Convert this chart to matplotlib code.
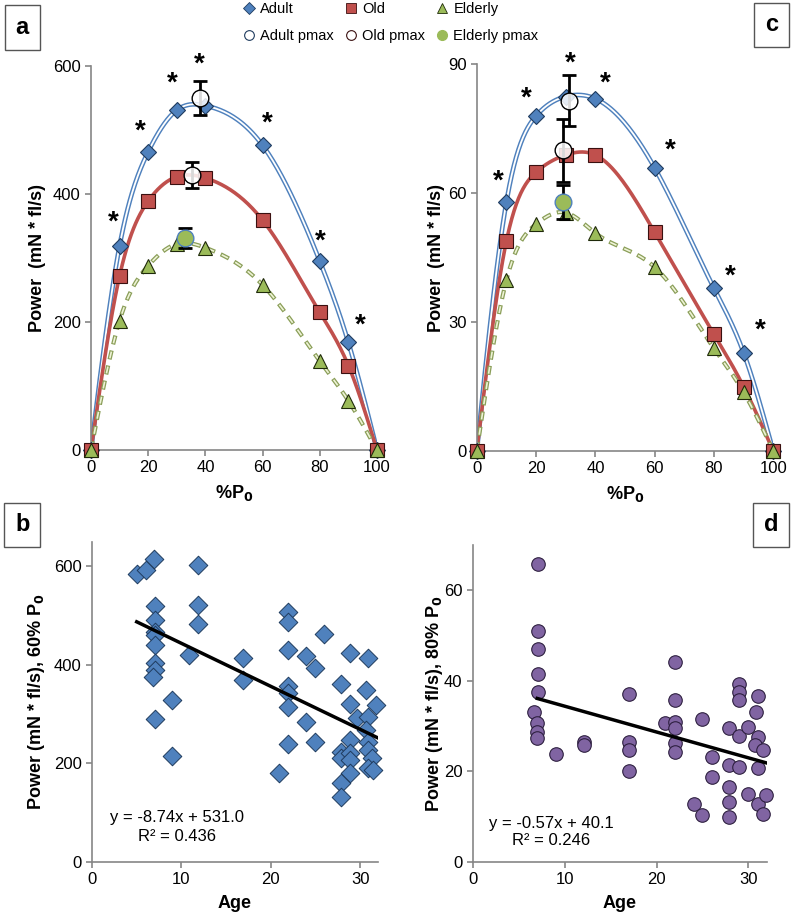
import numpy as np
import matplotlib
matplotlib.use("Agg")
import matplotlib.pyplot as plt
from matplotlib.lines import Line2D

plt.rcParams['font.family'] = ['Liberation Sans', 'DejaVu Sans']

# ---- panel a / c : power vs %P0 ----
pct = [0, 10, 20, 30, 40, 60, 80, 90, 100]
adult_a = [0, 319, 466, 531, 538, 476, 295, 168, 0]
old_a = [0, 272, 389, 427, 425, 359, 215, 132, 0]
elderly_a = [0, 202, 288, 322, 316, 258, 139, 77, 0]
pmax_x_a = [38.1, 35.2, 32.9]
pmax_y_a = [550, 430, 331]
pmax_err_a = [27, 20, 16]
stars_x_a = [7.7, 17.1, 28.6, 37.9, 61.6, 80.3, 94.3]
stars_y_a = [355, 497, 573, 602, 510, 325, 195]

adult_c = [0, 58.0, 78.0, 82.5, 82.0, 65.9, 37.9, 22.9, 0]
old_c = [0, 48.9, 64.9, 68.9, 68.9, 50.9, 27.2, 15.0, 0]
elderly_c = [0, 39.8, 52.8, 55.5, 50.7, 42.8, 23.9, 13.7, 0]
pmax_x_c = [31.2, 29.2, 29.2]
pmax_y_c = [81.5, 70.0, 58.0]
pmax_err_c = [5.9, 7.3, 4.0]
stars_x_c = [7.3, 16.6, 31.6, 43.2, 65.3, 85.6, 95.6]
stars_y_c = [62.7, 81.9, 90.1, 85.6, 69.9, 40.6, 28.0]

# ---- panel b : 60% P0 vs age ----
age_b = [5.0, 6.0, 6.9, 11.9, 7.0, 11.9, 7.0, 11.9, 7.0, 7.0, 7.0, 10.9, 7.0, 7.0, 6.8,
         9.0, 7.0, 9.0, 16.9, 16.9,
         21.9, 21.9, 25.9, 21.9, 23.9, 24.9, 28.9, 30.9, 27.9, 30.6, 21.9, 21.9, 21.9,
         28.9, 31.8, 23.9, 29.7, 30.9, 30.7, 21.9, 24.9, 28.9, 30.9, 27.9, 27.9, 28.9,
         28.9, 30.9, 31.3, 30.9, 31.4, 28.9, 20.9, 27.9, 27.9]
pow_b = [585, 592, 614, 603, 519, 521, 490, 482, 467, 460, 441, 419, 403, 389, 375,
         328, 290, 214, 413, 369,
         507, 487, 462, 430, 417, 394, 423, 414, 361, 348, 357, 342, 315,
         320, 318, 283, 291, 294, 267, 239, 244, 248, 244, 223, 210, 220,
         206, 227, 210, 190, 186, 181, 181, 160, 132]
slope_b, icpt_b, r2_b = -8.74, 531.0, 0.436

# ---- panel d : 80% P0 vs age ----
age_d = [7.1, 7.1, 7.1, 7.1, 7.1, 6.7, 7.0, 7.0, 7.0, 9.0, 12.1, 12.1, 17.0, 17.0, 17.0, 17.0,
         22.0, 29.0, 29.0, 29.0, 31.0, 22.0, 25.0, 30.8, 20.9, 22.0, 22.0, 22.0, 22.0,
         27.9, 29.0, 30.0, 31.0, 30.7, 31.6, 26.0, 26.0, 27.9, 29.0, 31.0, 27.9, 27.9,
         27.9, 30.0, 31.0, 31.6, 31.9, 24.1, 25.0]
pow_d = [65.7, 51.0, 47.0, 41.5, 37.6, 33.2, 30.6, 28.7, 27.3, 23.8, 26.5, 25.8, 37.2, 26.5, 24.7, 20.1,
         44.2, 39.4, 37.6, 35.7, 36.6, 35.7, 31.5, 33.2, 30.6, 31.0, 29.5, 26.2, 24.3,
         29.5, 27.9, 29.8, 27.6, 25.8, 24.7, 23.1, 18.7, 21.4, 21.0, 20.7, 16.6, 13.3,
         9.9, 15.0, 12.9, 10.7, 14.8, 12.9, 10.4]
slope_d, icpt_d, r2_d = -0.57, 40.1, 0.246

BLUE = '#4F81BD'
RED = '#C0504D'
GREEN = '#9BBB59'
PURPLE = '#8064A2'
GRAY = '#868686'

fig = plt.figure(figsize=(7.96, 9.16), dpi=100)


def style_axes(ax):
    for s in ['top', 'right']:
        ax.spines[s].set_visible(False)
    for s in ['left', 'bottom']:
        ax.spines[s].set_color(GRAY)
        ax.spines[s].set_linewidth(1.2)
    ax.tick_params(colors=GRAY, labelcolor='black', labelsize=12, length=4, width=1.2)


def smooth_line(y, n=40):
    # natural cubic spline through the points
    x = np.array(pct, float)
    y = np.array(y, float)
    h = np.diff(x)
    k = len(x)
    A = np.zeros((k, k))
    b = np.zeros(k)
    A[0, 0] = A[-1, -1] = 1
    for i in range(1, k - 1):
        A[i, i - 1] = h[i - 1]
        A[i, i] = 2 * (h[i - 1] + h[i])
        A[i, i + 1] = h[i]
        b[i] = 6 * ((y[i + 1] - y[i]) / h[i] - (y[i] - y[i - 1]) / h[i - 1])
    M = np.linalg.solve(A, b)
    xs, ys = [], []
    for i in range(k - 1):
        xx = np.linspace(x[i], x[i + 1], n)
        a = x[i + 1] - xx
        c = xx - x[i]
        s = (M[i] * a**3 + M[i + 1] * c**3) / (6 * h[i]) \
            + (y[i] / h[i] - M[i] * h[i] / 6) * a + (y[i + 1] / h[i] - M[i + 1] * h[i] / 6) * c
        xs.append(xx)
        ys.append(s)
    return np.concatenate(xs), np.concatenate(ys)


def power_panel(ax, adult, old, eld, px, py, perr, sx, sy, ymax, yticks):
    xa, fa = smooth_line(adult)
    xo, fo = smooth_line(old)
    xe, fe = smooth_line(eld)
    ax.plot(xa, fa, color=BLUE, lw=3.4, zorder=2)
    ax.plot(xa, fa, color='white', lw=1.3, zorder=2)
    ax.plot(xo, fo, color=RED, lw=2.6, zorder=2)
    ax.plot(xe, fe, color='#8A9E58', lw=3.0, ls=(0, (2.2, 1.5)), zorder=2)
    ax.plot(xe, fe, color='#EEF3D6', lw=1.2, ls=(8.58, (4.17, 5.08)), zorder=2)

    kw = dict(ls='none', zorder=4, clip_on=False)
    ax.plot(pct, adult, 'D', color=BLUE, mec='#1F3B5E', mew=0.8, ms=8, **kw)
    ax.plot(pct, old, 's', color=RED, mec='#3A1010', mew=0.8, ms=10, **kw)
    ax.plot(pct, eld, '^', color=GREEN, mec='#1F2A0A', mew=0.8, ms=10, **kw)

    ax.errorbar(px, py, yerr=perr, fmt='none', ecolor='black', elinewidth=2, capsize=5,
                capthick=2, zorder=5)
    ax.plot(px[0], py[0], 'o', mfc=(1, 1, 1, 0.85), mec='black', mew=1, ms=12, zorder=6)
    ax.plot(px[1], py[1], 'o', mfc=(1, 1, 1, 0.85), mec='black', mew=1, ms=12, zorder=6)
    ax.plot(px[2], py[2], 'o', mfc=GREEN, mec=BLUE, mew=1, ms=12, zorder=6)

    for x, y in zip(sx, sy):
        ax.text(x, y, '*', fontsize=20, fontweight='bold', ha='center', va='center', zorder=7)

    ax.set_xlim(0, 100)
    ax.set_ylim(0, ymax)
    ax.set_xticks([0, 20, 40, 60, 80, 100])
    ax.set_yticks(yticks)
    ax.set_xlabel('%P$_\\mathbf{0}$', fontsize=13, fontweight='bold')
    ax.set_ylabel('Power  (mN * fl/s)', fontsize=13, fontweight='bold')
    style_axes(ax)


ax_a = fig.add_axes([0.1143, 0.5087, 0.3593, 0.4193])
power_panel(ax_a, adult_a, old_a, elderly_a, pmax_x_a, pmax_y_a, pmax_err_a,
            stars_x_a, stars_y_a, 600, [0, 200, 400, 600])
ax_a.yaxis.set_label_coords(-0.159, 0.5)
ax_a.xaxis.set_label_coords(0.5, -0.085)

ax_c = fig.add_axes([0.599, 0.5076, 0.3724, 0.4222])
power_panel(ax_c, adult_c, old_c, elderly_c, pmax_x_c, pmax_y_c, pmax_err_c,
            stars_x_c, stars_y_c, 90, [0, 30, 60, 90])
ax_c.yaxis.set_label_coords(-0.106, 0.5)
ax_c.xaxis.set_label_coords(0.5, -0.085)

# ---- panel b ----
ax_b = fig.add_axes([0.1156, 0.0593, 0.3593, 0.3493])
ax_b.scatter(age_b, pow_b, marker='D', s=90, color=BLUE, edgecolor='#1F3B5E', linewidth=0.7,
             zorder=3, clip_on=False)
xl = np.array([5, 32])
ax_b.plot(xl, slope_b * xl + icpt_b, color='black', lw=2.5, zorder=4)
ax_b.text(9.5, 89, f'y = {slope_b:.2f}x + {icpt_b:.1f}', fontsize=12, ha='center', va='center')
ax_b.text(9.5, 52, f'R² = {r2_b:.3f}', fontsize=12, ha='center', va='center')
ax_b.set_xlim(0, 32)
ax_b.set_ylim(0, 650)
ax_b.set_xticks([0, 10, 20, 30])
ax_b.set_yticks([0, 200, 400, 600])
ax_b.set_xlabel('Age', fontsize=13, fontweight='bold')
ax_b.set_ylabel('Power (mN * fl/s), 60% P$_\\mathbf{0}$', fontsize=13, fontweight='bold')
style_axes(ax_b)
ax_b.yaxis.set_label_coords(-0.159, 0.5)
ax_b.xaxis.set_label_coords(0.5, -0.105)

# ---- panel d ----
ax_d = fig.add_axes([0.5942, 0.059, 0.3690, 0.346])
ax_d.scatter(age_d, pow_d, marker='o', s=95, color=PURPLE, edgecolor='#2E2040', linewidth=0.8,
             zorder=3, clip_on=False)
xl = np.array([7, 32])
ax_d.plot(xl, slope_d * xl + icpt_d, color='black', lw=2.5, zorder=4)
ax_d.text(8.5, 8.6, f'y = {slope_d:.2f}x + {icpt_d:.1f}', fontsize=12, ha='center', va='center')
ax_d.text(8.5, 4.7, f'R² = {r2_d:.3f}', fontsize=12, ha='center', va='center')
ax_d.set_xlim(0, 32)
ax_d.set_ylim(0, 70)
ax_d.set_xticks([0, 10, 20, 30])
ax_d.set_yticks([0, 20, 40, 60])
ax_d.set_xlabel('Age', fontsize=13, fontweight='bold')
ax_d.set_ylabel('Power (mN * fl/s), 80% P$_\\mathbf{0}$', fontsize=13, fontweight='bold')
style_axes(ax_d)
ax_d.yaxis.set_label_coords(-0.095, 0.5)
ax_d.xaxis.set_label_coords(0.5, -0.105)

# ---- panel letters ----
for lbl, x, y in [('a', 0.028, 0.970), ('c', 0.969, 0.973), ('b', 0.028, 0.427), ('d', 0.969, 0.427)]:
    fig.text(x, y, lbl, fontsize=17, fontweight='bold', ha='center', va='center',
             bbox=dict(boxstyle='square,pad=0.45', fc='white', ec='#555555', lw=1))

# ---- legend ----
handles = [
    Line2D([], [], marker='D', color=BLUE, mec='#1F3B5E', mew=0.6, ms=6, ls='none', label='Adult'),
    Line2D([], [], marker='o', mfc='white', mec='#1F3B5E', mew=0.8, ms=7, ls='none', label='Adult pmax'),
    Line2D([], [], marker='s', color=RED, mec='#3A1010', mew=0.6, ms=7, ls='none', label='Old'),
    Line2D([], [], marker='o', mfc='white', mec='#3A1010', mew=0.8, ms=7, ls='none', label='Old pmax'),
    Line2D([], [], marker='^', color=GREEN, mec='#1F2A0A', mew=0.6, ms=7, ls='none', label='Elderly'),
    Line2D([], [], marker='o', color=GREEN, mec=GREEN, ms=7, ls='none', label='Elderly pmax'),
]
fig.legend(handles=handles, ncol=3, loc='upper center', bbox_to_anchor=(0.49, 1.0116),
           frameon=False, fontsize=10.5, handletextpad=0.25, columnspacing=0.7,
           labelspacing=0.85, handlelength=1.0)

fig.savefig('out.png', dpi=100)
